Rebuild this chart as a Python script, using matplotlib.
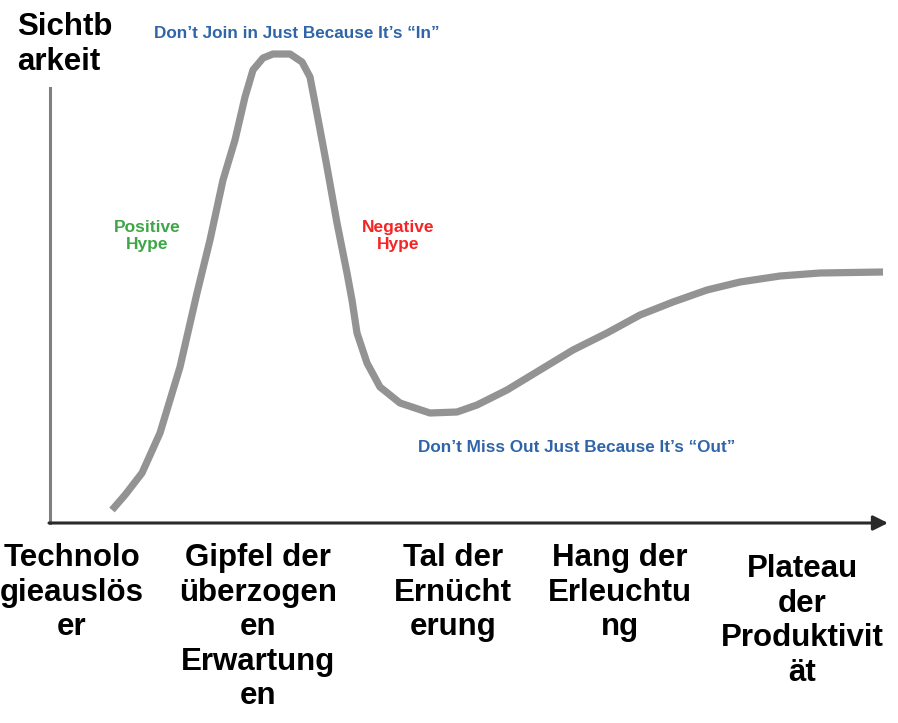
import matplotlib
matplotlib.use("Agg")
import matplotlib.pyplot as plt

plt.rcParams['font.family'] = ['Liberation Sans', 'DejaVu Sans']

# Hype-Zyklus: Zeit (x) und Sichtbarkeit (y)
zeit = [62, 75, 92, 110, 130, 147, 160, 173, 185, 195, 203, 213, 223, 240, 252,
        260, 265, 272, 277, 287, 297, 302, 307, 317, 330, 350, 380, 407, 427,
        457, 490, 523, 557, 590, 623, 657, 690, 730, 770, 833]
sichtbarkeit = [13, 28, 50, 90, 156, 230, 283, 343, 383, 426, 453, 465, 469, 469,
                461, 446, 420, 383, 356, 300, 250, 223, 190, 160, 136, 120, 110,
                111, 118, 133, 153, 173, 190, 208, 221, 233, 241, 247, 250, 251]

phasen = ["Technolo\ngieauslös\ner",
          "Gipfel der\nüberzogen\nen\nErwartung\nen",
          "Tal der\nErnücht\nerung",
          "Hang der\nErleuchtu\nng",
          "Plateau\nder\nProduktivit\nät"]
phasen_x = [72, 258, 453, 620, 802]
phasen_y = [543, 543, 543, 543, 554]

fig = plt.figure(figsize=(8.98, 7.23), dpi=100)
ax = fig.add_axes([50 / 898, 200 / 723, 838 / 898, 483 / 723])
ax.set_xlim(0, 838)
ax.set_ylim(0, 483)

ax.plot(zeit, sichtbarkeit, color='#939393', lw=5.2, solid_capstyle='butt',
        solid_joinstyle='round', clip_on=False)

# Achsen
for s in ['top', 'right', 'bottom']:
    ax.spines[s].set_visible(False)
ax.spines['left'].set_bounds(0, 435)
ax.spines['left'].set_color('#808080')
ax.spines['left'].set_linewidth(2.2)
ax.set_xticks([])
ax.set_yticks([])
ax.annotate('', xy=(838, 0), xytext=(-1, 0),
            arrowprops=dict(arrowstyle='-|>', color='#2a2a2a', lw=2.2,
                            mutation_scale=22, shrinkA=0, shrinkB=0),
            annotation_clip=False)

blau = '#2f64a8'
ax.text(247, 490, "Don’t Join in Just Because It’s “In”", color=blau,
        fontsize=12.3, fontweight='bold', ha='center', va='center', clip_on=False)
ax.text(527, 75, "Don’t Miss Out Just Because It’s “Out”", color=blau,
        fontsize=12.3, fontweight='bold', ha='center', va='center')
ax.text(97, 287, "Positive\nHype", color='#3fa648', fontsize=12.5,
        fontweight='bold', ha='center', va='center', linespacing=1.2)
ax.text(348, 287, "Negative\nHype", color='#f52525', fontsize=12.5,
        fontweight='bold', ha='center', va='center', linespacing=1.2)

fig.text(17 / 898, 1 - 12 / 723, "Sichtb\narkeit", fontsize=22.5,
         fontweight='bold', ha='left', va='top', linespacing=1.2)

for txt, x, y in zip(phasen, phasen_x, phasen_y):
    fig.text(x / 898, 1 - y / 723, txt, fontsize=22.5, fontweight='bold',
             ha='center', va='top', linespacing=1.2)

fig.savefig('out.png', dpi=100, facecolor='white')
